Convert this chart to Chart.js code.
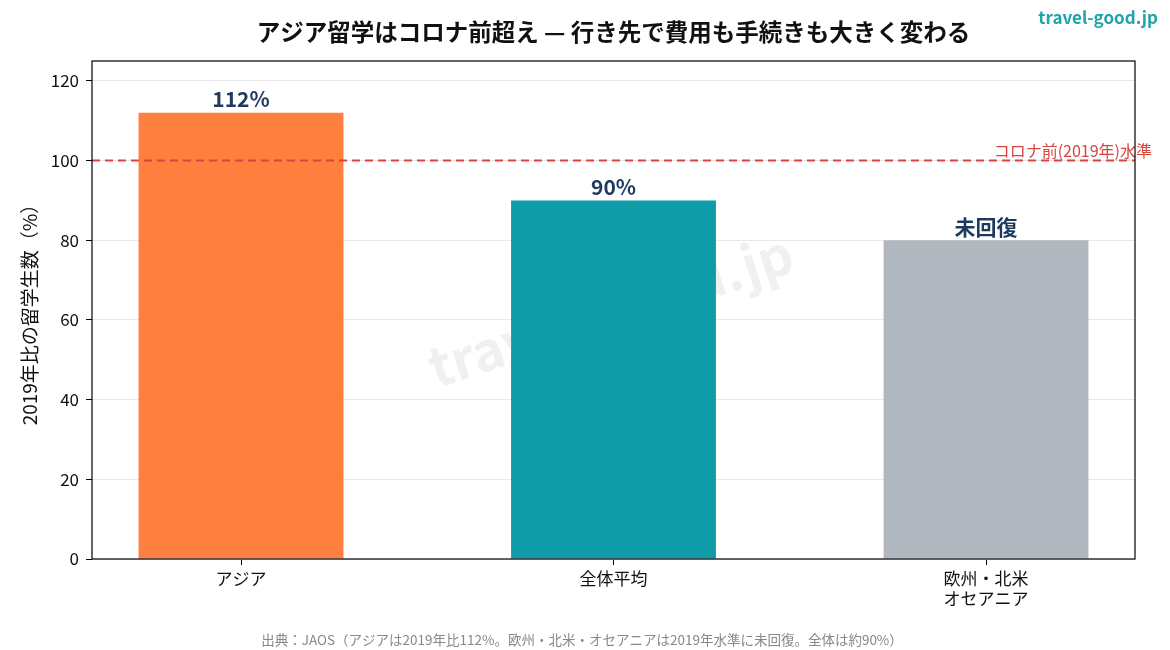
<!DOCTYPE html>
<html><head><meta charset="utf-8">
<script src="https://cdn.jsdelivr.net/npm/chart.js@4/dist/chart.umd.min.js"></script>
<style>html,body{margin:0;padding:0;background:#fff}canvas{display:block}</style>
</head><body>
<canvas id="c" width="1170" height="650"></canvas>
<script>
const categories = [["アジア"], ["全体平均"], ["欧州・北米", "オセアニア"]];
const values = [112, 90, 80];
const valueLabels = ["112%", "90%", "未回復"];
const barColors = ["#FF7F3F", "#109BA9", "#B1B7BF"];
const referenceLevel = 100;
const referenceLabel = "コロナ前(2019年)水準";
const yTicks = [0, 20, 40, 60, 80, 100, 120];
const titleText = "アジア留学はコロナ前超え — 行き先で費用も手続きも大きく変わる";
const footerText = "出典：JAOS（アジアは2019年比112%。欧州・北米・オセアニアは2019年水準に未回復。全体は約90%）";
const yTitle = "2019年比の留学生数（%）";
const brand = "travel-good.jp";

const FONT = "'Noto Sans CJK JP','Noto Sans',sans-serif";

const decor = {
  id: 'decor',
  beforeDatasetsDraw(chart) {
    const ctx = chart.ctx, a = chart.chartArea;
    ctx.save();
    ctx.translate((a.left + a.right) / 2 - 3, 310);
    ctx.rotate(-18 * Math.PI / 180);
    ctx.font = "bold 54px " + FONT;
    ctx.fillStyle = "rgba(0,0,0,0.06)";
    ctx.textAlign = 'center'; ctx.textBaseline = 'middle';
    ctx.fillText(brand, 0, 0);
    ctx.restore();
  },
  afterDatasetsDraw(chart) {
    const ctx = chart.ctx, a = chart.chartArea;
    const xs = chart.scales.x, ys = chart.scales.y;
    ctx.save();
    const yRef = ys.getPixelForValue(referenceLevel);
    ctx.strokeStyle = "#D9443F"; ctx.lineWidth = 2; ctx.setLineDash([8, 5]);
    ctx.beginPath(); ctx.moveTo(a.left, yRef); ctx.lineTo(a.right, yRef); ctx.stroke();
    ctx.setLineDash([]);
    ctx.font = "16px " + FONT; ctx.fillStyle = "#D9443F";
    ctx.textAlign = 'right'; ctx.textBaseline = 'bottom';
    ctx.fillText(referenceLabel, 1152, yRef - 2);
    ctx.font = "bold 21px " + FONT; ctx.fillStyle = "#1F3A5F";
    ctx.textAlign = 'center'; ctx.textBaseline = 'bottom';
    values.forEach((v, i) => {
      ctx.fillText(valueLabels[i], xs.getPixelForValue(i), ys.getPixelForValue(v) - 3);
    });
    ctx.strokeStyle = "#000"; ctx.lineWidth = 1.2;
    ctx.strokeRect(a.left, a.top, a.right - a.left, a.bottom - a.top);
    ctx.restore();
  },
  afterDraw(chart) {
    const ctx = chart.ctx, a = chart.chartArea;
    ctx.save();
    ctx.textAlign = 'center'; ctx.textBaseline = 'middle';
    ctx.font = "bold 23.5px " + FONT; ctx.fillStyle = "#111";
    ctx.fillText(titleText, (a.left + a.right) / 2, 32);
    ctx.font = "13.5px " + FONT; ctx.fillStyle = "#888";
    ctx.fillText(footerText, 582, 640);
    ctx.font = "bold 17px " + FONT; ctx.fillStyle = "#20A3AB";
    ctx.textAlign = 'right';
    ctx.fillText(brand, 1158, 18);
    ctx.restore();
  }
};

new Chart(document.getElementById('c'), {
  type: 'bar',
  data: {
    datasets: [{
      data: values.map((v, i) => ({ x: i, y: v })),
      backgroundColor: barColors,
      borderWidth: 0,
      barPercentage: 0.55,
      categoryPercentage: 1.0
    }]
  },
  options: {
    responsive: false, animation: false,
    layout: { padding: { top: 61, right: 35, left: 0, bottom: 0 } },
    plugins: { legend: { display: false }, tooltip: { enabled: false } },
    scales: {
      x: {
        type: 'linear', min: -0.4, max: 2.4, offset: false,
        afterBuildTicks(s) { s.ticks = categories.map((c, i) => ({ value: i })); },
        afterFit(s) { s.height = 91; },
        grid: { color: 'rgba(0,0,0,0)', tickColor: '#000', tickLength: 6, offset: false },
        border: { display: false },
        ticks: {
          color: '#111', font: { family: FONT, size: 17 }, padding: 3, maxRotation: 0,
          callback: (v) => categories[v] || ''
        }
      },
      y: {
        min: 0, max: 125,
        afterBuildTicks(s) { s.ticks = yTicks.map(v => ({ value: v })); },
        afterFit(s) { s.width = 92; },
        grid: { color: '#E8E8E8', tickColor: '#000', tickLength: 6 },
        border: { display: false },
        ticks: { color: '#111', font: { family: FONT, size: 17 }, padding: 7 },
        title: { display: true, text: yTitle, color: '#111', font: { family: FONT, size: 19 }, padding: { top: 18, bottom: 0 } }
      }
    }
  },
  plugins: [decor]
});
</script>
</body></html>
